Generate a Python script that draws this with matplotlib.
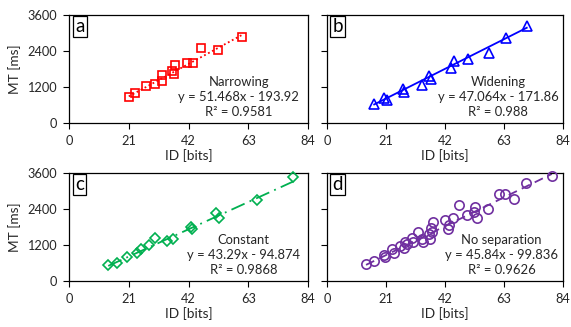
import matplotlib
matplotlib.use('Agg')
import matplotlib.pyplot as plt
import numpy as np

plt.rcParams['font.family'] = ['Lato', 'DejaVu Sans']

# a - Narrowing
narrow_x = [21.0, 23.3, 27.2, 30.1, 32.6, 32.6, 36.3, 36.9, 37.1, 41.5, 43.5, 46.3, 52.2, 60.8]
narrow_y = [857, 1010, 1233, 1290, 1410, 1600, 1723, 1633, 1943, 2010, 1990, 2510, 2423, 2877]
# b - Widening
widen_x = [16.8, 20.4, 21.2, 26.9, 27.5, 33.8, 36.4, 36.9, 44.0, 45.1, 50.2, 57.5, 63.6, 71.1]
widen_y = [623, 823, 767, 1133, 1043, 1267, 1567, 1457, 1843, 2067, 2143, 2343, 2823, 3223]
# c - Constant
const_x = [13.8, 16.7, 20.3, 23.9, 25.4, 28.1, 30.3, 34.4, 36.5, 43.0, 43.2, 51.6, 52.7, 65.9, 78.8]
const_y = [523, 610, 790, 923, 1077, 1200, 1443, 1333, 1400, 1810, 1723, 2277, 2090, 2700, 3467]
# d - No separation
nosep_x = [13.9, 16.7, 20.2, 20.6, 23.3, 24.0, 26.0, 27.8, 27.4, 28.5, 30.4, 30.6, 32.5, 33.7,
           34.3, 36.3, 36.7, 36.9, 37.5, 37.8, 42.0, 43.2, 43.5, 44.7, 47.0, 49.9, 52.2, 52.7,
           53.3, 57.3, 61.3, 63.4, 66.7, 70.7, 80.0]
nosep_y = [557, 657, 877, 790, 1057, 943, 1167, 1310, 1100, 1233, 1443, 1310, 1633, 1400,
           1310, 1577, 1390, 1757, 1643, 1967, 2033, 1733, 1857, 2110, 2533, 2200, 2290, 2467,
           2110, 2390, 2900, 2890, 2723, 3267, 3510]

labels = ['a', 'b', 'c', 'd']
names = ['Narrowing', 'Widening', 'Constant', 'No separation']
slopes = [51.468, 47.064, 43.29, 45.84]
intercepts = [-193.92, -171.86, -94.874, -99.836]
r2 = ['0.9581', '0.988', '0.9868', '0.9626']

xs = [narrow_x, widen_x, const_x, nosep_x]
ys = [narrow_y, widen_y, const_y, nosep_y]
colors = ['#FF0000', '#0000FF', '#00B050', '#7030A0']
markers = ['s', '^', 'D', 'o']
msizes = [5.5, 7, 5.3, 6.7]
linestyles = [(0, (1, 1.5)), '-', (0, (8, 3, 1, 3)), (0, (5, 3))]

W, H = 571, 327
boxes = [(69, 15, 308, 123), (327, 15, 563, 123), (69, 173, 308, 281), (327, 173, 563, 281)]
text_x = [0.71, 0.725, 0.73, 0.74]

fig = plt.figure(figsize=(5.71, 3.27), dpi=100)

for i in range(4):
    l, t, r, b = boxes[i]
    ax = fig.add_axes([l / W, 1 - b / H, (r - l) / W, (b - t) / H])
    x = np.array(xs[i])
    y = np.array(ys[i])
    lx = np.array([x.min(), x.max()])
    ax.plot(lx, slopes[i] * lx + intercepts[i], color=colors[i], lw=1.3,
            linestyle=linestyles[i], zorder=2)
    ax.plot(x, y, linestyle='none', marker=markers[i], ms=msizes[i], mfc='none',
            mec=colors[i], mew=1.2, zorder=3, clip_on=False)
    ax.set_xlim(0, 84)
    ax.set_ylim(0, 3600)
    ax.set_xticks([0, 21, 42, 63, 84])
    ax.set_yticks([0, 1200, 2400, 3600])
    ax.tick_params(direction='out', length=4.3, width=0.8, labelsize=9.2, colors='black')
    ax.tick_params(axis='x', pad=4.5, labelcolor='#262626')
    ax.tick_params(axis='y', pad=4.5, labelcolor='#262626')
    for s in ax.spines.values():
        s.set_linewidth(0.9)
    if i in (1, 3):
        ax.set_yticklabels([])
    else:
        ax.set_ylabel('MT [ms]', fontsize=9.8, labelpad=4.5, color='#262626')
    ax.set_xlabel('ID [bits]', fontsize=9.8, labelpad=1.5, color='#262626')
    sign = '-' if intercepts[i] < 0 else '+'
    txt = f'{names[i]}\ny = {slopes[i]}x {sign} {abs(intercepts[i])}\nR² = {r2[i]}'
    ax.text(text_x[i], 0.24, txt, transform=ax.transAxes, ha='center', va='center',
            fontsize=9.4, linespacing=1.3, color='#262626')
    ax.text(0.045, 0.895, labels[i], transform=ax.transAxes, ha='center', va='center',
            fontsize=13.5, bbox=dict(boxstyle='square,pad=0.12', fc='white', ec='black', lw=0.9))

fig.savefig('out.png', dpi=100)
